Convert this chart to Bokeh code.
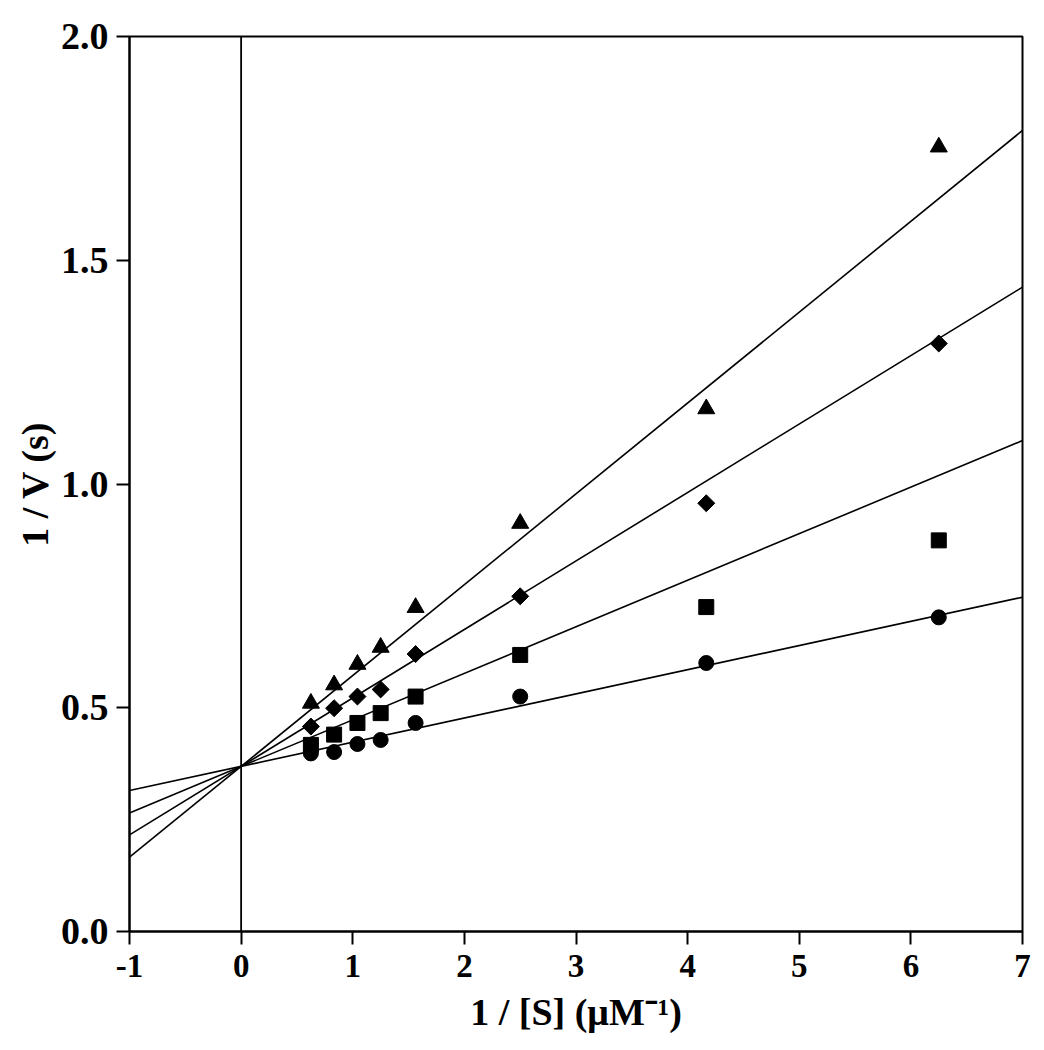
import numpy as np
from bokeh.plotting import figure
from bokeh.models import Span, FixedTicker, NumeralTickFormatter, Range1d
from bokeh.embed import file_html
from bokeh.resources import INLINE

# ---- data ----
inv_s = [0.625, 0.833, 1.042, 1.25, 1.563, 2.5, 4.167, 6.25]
tri_y = [0.510, 0.551, 0.597, 0.635, 0.724, 0.912, 1.168, 1.753]
dia_y = [0.458, 0.499, 0.525, 0.541, 0.620, 0.749, 0.957, 1.314]
sq_y = [0.417, 0.440, 0.466, 0.488, 0.525, 0.618, 0.725, 0.874]
cir_y = [0.398, 0.401, 0.419, 0.428, 0.466, 0.525, 0.600, 0.702]

fit_slopes = [0.203, 0.153, 0.104, 0.054]
fit_intercepts = [0.369, 0.369, 0.369, 0.369]

x_ticks = [-1, 0, 1, 2, 3, 4, 5, 6, 7]
x_tick_labels = ["-1", "0", "1", "2", "3", "4", "5", "6", "7"]
y_ticks = [0.0, 0.5, 1.0, 1.5, 2.0]
x_lim = (-1, 7)
y_lim = (0, 2)

FONT = "Liberation Serif"

p = figure(frame_width=893, frame_height=895,
           min_border_left=129, min_border_top=36, min_border_right=10,
           min_border_bottom=112,
           x_range=Range1d(*x_lim), y_range=Range1d(*y_lim),
           output_backend="svg", toolbar_location=None)

p.xgrid.visible = False
p.ygrid.visible = False
p.outline_line_color = "black"
p.outline_line_width = 2
p.outline_line_alpha = 1.0
p.background_fill_color = "white"
p.border_fill_color = "white"

# fit lines
xs_line = [x_lim[0], x_lim[1]]
for m, b in zip(fit_slopes, fit_intercepts):
    p.line(xs_line, [m * x + b for x in xs_line], line_color="black", line_width=1.6)

p.add_layout(Span(location=0, dimension="height", line_color="black", line_width=1.8))

p.scatter(inv_s, tri_y, marker="triangle", size=17, color="black")
p.scatter(inv_s, dia_y, marker="square", angle=np.pi / 4, size=12, color="black")
p.scatter(inv_s, sq_y, marker="square", size=15, color="black")
p.scatter(inv_s, cir_y, marker="circle", size=15, color="black")

for ax in (p.xaxis[0], p.yaxis[0]):
    ax.axis_line_color = "black"
    ax.axis_line_width = 2
    ax.major_tick_line_color = "black"
    ax.major_tick_line_width = 2
    ax.major_tick_in = 0
    ax.major_tick_out = 13
    ax.minor_tick_line_color = None
    ax.major_label_text_font = FONT
    ax.major_label_text_font_style = "bold"
    ax.major_label_text_color = "black"
    ax.axis_label_text_font = FONT
    ax.axis_label_text_font_style = "bold"
    ax.axis_label_text_font_size = "38px"
    ax.axis_label_text_color = "black"

p.xaxis.major_label_text_font_size = "33px"
p.yaxis.major_label_text_font_size = "38px"
p.xaxis.ticker = FixedTicker(ticks=x_ticks)
p.xaxis.major_label_overrides = {t: s for t, s in zip(x_ticks, x_tick_labels)}
p.yaxis.ticker = FixedTicker(ticks=y_ticks)
p.yaxis.formatter = NumeralTickFormatter(format="0.0")
p.xaxis.major_label_standoff = 10
p.yaxis.major_label_standoff = 8
p.xaxis.axis_label = "1 / [S] (\u03bcM\u207b\u00b9)"
p.yaxis.axis_label = "1 / V (s)"
p.xaxis.axis_label_standoff = 11
p.yaxis.axis_label_standoff = 2

open("out.html", "w").write(file_html(p, INLINE))
